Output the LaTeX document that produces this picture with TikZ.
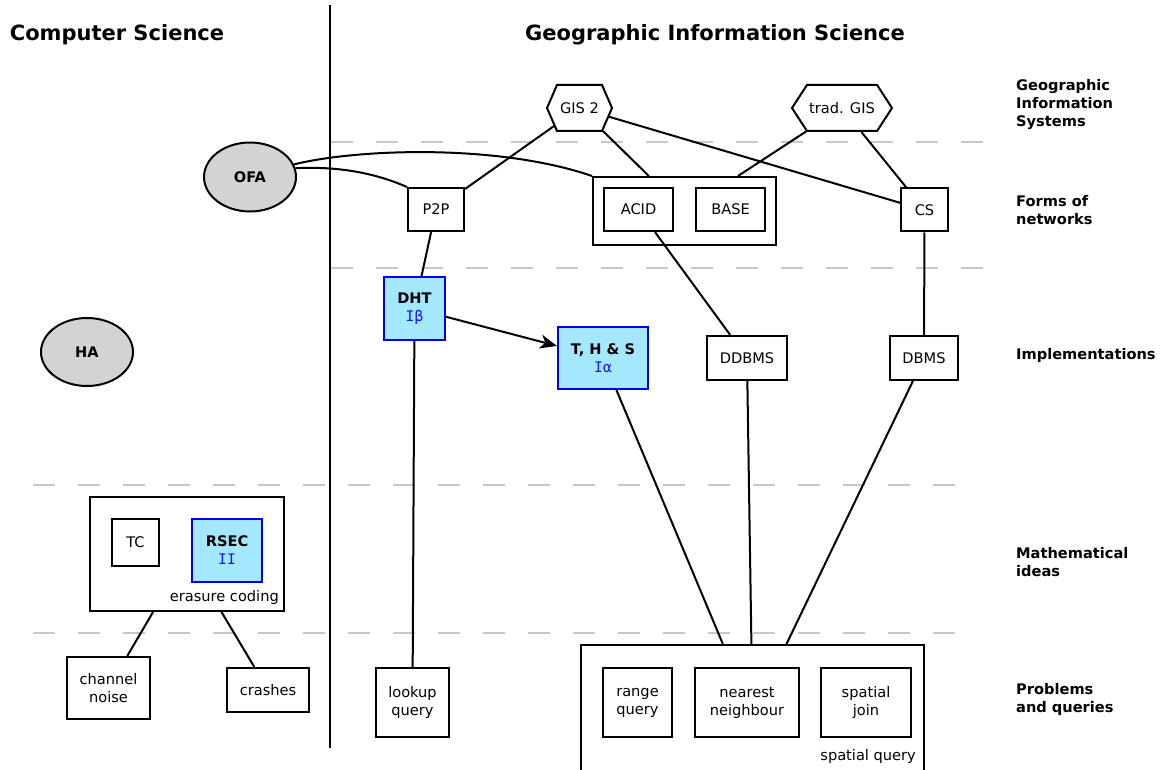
\documentclass[tikz,border=0pt]{standalone}
\usepackage{fontspec}
\setmainfont{DejaVu Sans}
\newfontfamily\codefont{DejaVu Sans Mono}
\usetikzlibrary{shapes.symbols,shapes.geometric,arrows.meta}

\definecolor{implfill}{RGB}{164,232,255}
\definecolor{implline}{RGB}{0,0,235}
\definecolor{impltext}{RGB}{20,20,255}
\definecolor{ellfill}{RGB}{211,211,211}
\definecolor{sepgray}{RGB}{200,200,200}

\begin{document}
\begin{tikzpicture}[x=1pt,y=-1pt,
  every node/.style={font=\fontsize{14.6}{18}\selectfont},
  box/.style={draw,line width=2pt,rectangle,inner sep=0pt,align=center},
  impl/.style={box,draw=implline,fill=implfill},
  conc/.style={draw,line width=2pt,ellipse,fill=ellfill,inner sep=0pt,
    font=\fontsize{14.6}{18}\selectfont\bfseries},
  sys/.style={draw,line width=2pt,shape=signal,signal to=east and west,inner sep=0pt},
  link/.style={line width=2pt},
  sepline/.style={draw=sepgray,line width=2pt,dash pattern=on 22pt off 23pt},
  level/.style={anchor=west,align=left,inner sep=0pt,font=\fontsize{14.6}{18}\selectfont\bfseries},
  heading/.style={font=\fontsize{21}{25}\selectfont\bfseries},
  note/.style={anchor=east,inner sep=0pt},
]
\useasboundingbox (0,0) rectangle (1173,770);

% headings and level names
\node[heading] (hcs) at (117,34.5) {Computer Science};
\node[heading] (hgis) at (715,34.5) {Geographic Information Science};
\node[level] (l1) at (1016,105) {Geographic\\Information\\Systems};
\node[level] (l2) at (1016,210) {Forms of\\networks};
\node[level] (l3) at (1016,355.5) {Implementations};
\node[level] (l4) at (1016,562) {Mathematical\\ideas};
\node[level] (l5) at (1016,699) {Problems\\and queries};

% divider and level separators
\draw[link] (330,5) -- (330,748);
\draw[sepline] (331,142) -- (985,142);
\draw[sepline] (331,268) -- (985,268);
\draw[sepline] (33,485) -- (975,485);
\draw[sepline] (33,633) -- (975,633);

% concepts
\node[conc,minimum width=92pt,minimum height=69pt] (ofa) at (250,177) {OFA};
\node[conc,minimum width=92pt,minimum height=68pt] (ha) at (87,352) {HA};

% systems
\node[sys,minimum width=65pt,minimum height=46pt,signal pointer angle=133] (gis2) at (579.5,108) {GIS 2};
\node[sys,minimum width=100pt,minimum height=46pt,signal pointer angle=114] (trad) at (842,108) {trad. GIS};

% forms of networks
\node[box,minimum width=56pt,minimum height=43pt] (p2p) at (436,209.5) {P2P};
\node[box,minimum width=183pt,minimum height=68pt] (netbox) at (684.5,211) {};
\node[box,minimum width=69pt,minimum height=43pt] (acid) at (638.5,209.5) {ACID};
\node[box,minimum width=69pt,minimum height=43pt] (base) at (730.5,209.5) {BASE};
\node[box,minimum width=47pt,minimum height=43pt] (cs) at (924.5,210) {CS};

% implementations
\node[impl,minimum width=61pt,minimum height=63pt] (dht) at (414.5,308.5)
  {\textbf{DHT}\\{\codefont\color{impltext}Iβ}};
\node[impl,minimum width=90pt,minimum height=62pt] (ths) at (603,358)
  {\textbf{T, H \& S}\\{\codefont\color{impltext}Iα}};
\node[box,minimum width=80pt,minimum height=44pt] (ddbms) at (747,358) {DDBMS};
\node[box,minimum width=68pt,minimum height=44pt] (dbms) at (924,358) {DBMS};

% mathematical ideas
\node[box,minimum width=194pt,minimum height=114pt] (eras) at (187,554) {};
\node[box,minimum width=47pt,minimum height=47pt] (tc) at (135.5,542.5) {TC};
\node[impl,minimum width=70pt,minimum height=63pt] (rsec) at (227,550.5)
  {\textbf{RSEC}\\{\codefont\color{impltext}II}};
\node[note] (erasl) at (279,597) {erasure coding};

% problems and queries
\node[box,minimum width=83pt,minimum height=62pt] (noise) at (108.5,688) {channel\\noise};
\node[box,minimum width=82pt,minimum height=44pt] (crash) at (268,690) {crashes};
\node[box,minimum width=73pt,minimum height=69pt] (lookup) at (412.5,702.5) {lookup\\query};
\node[box,minimum width=343pt,minimum height=140pt] (spat) at (752.5,715) {};
\node[box,minimum width=69pt,minimum height=69pt] (range) at (637.5,702.5) {range\\query};
\node[box,minimum width=104pt,minimum height=69pt] (near) at (747,702.5) {nearest\\neighbour};
\node[box,minimum width=90pt,minimum height=69pt] (join) at (866,702.5) {spatial\\join};
\node[note] (spatl) at (916,756) {spatial query};

% connectors
\draw[link] (ofa.11) .. controls +(43,-2) and +(-32,-14) .. (p2p.north west);
\draw[link] (ofa.16) .. controls +(65,-16) and +(-93,-32) .. (netbox.north west);
\draw[link] (gis2) -- (p2p);
\draw[link] (gis2) -- (netbox);
\draw[link] (gis2) -- (cs);
\draw[link] (trad) -- (netbox);
\draw[link] (trad) -- (cs);
\draw[link] (p2p) -- (dht);
\draw[link] (acid) -- (ddbms);
\draw[link] (cs) -- (dbms);
\draw[link,-{Stealth[length=17pt,width=14pt,inset=5pt]}] (dht) -- (ths);
\draw[link] (dht) -- (lookup);
\draw[link] (ths) -- (spat);
\draw[link] (ddbms) -- (spat);
\draw[link] (dbms) -- (spat);
\draw[link] (eras) -- (noise);
\draw[link] (eras) -- (crash);
\end{tikzpicture}
\end{document}
